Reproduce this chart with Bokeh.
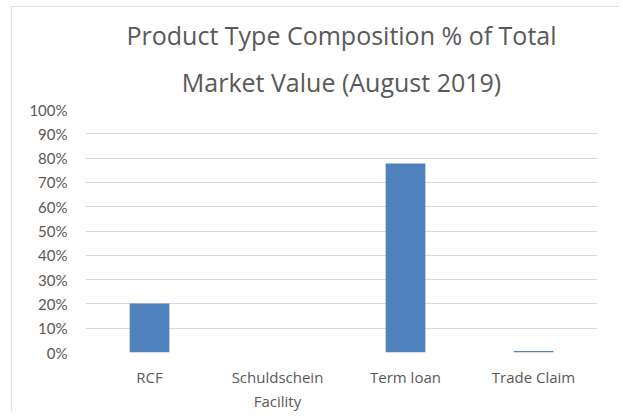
from bokeh.plotting import figure
from bokeh.models import ColumnDataSource, Range1d, FactorRange, FixedTicker, Title
from bokeh.embed import file_html
from bokeh.resources import INLINE

# Data
categories = ["RCF", "Schuldschein\nFacility", "Term loan", "Trade Claim"]
shares = [0.202, 0.0, 0.778, 0.006]
y_ticks = [0.0, 0.1, 0.2, 0.3, 0.4, 0.5, 0.6, 0.7, 0.8, 0.9, 1.0]
y_tick_labels = ["0%", "10%", "20%", "30%", "40%", "50%", "60%", "70%", "80%", "90%", "100%"]
title_lines = ["Product Type Composition % of Total", "Market Value (August 2019)"]

TITLE_FONT = "Open Sans"
AXIS_FONT = "Lato"
TEXT = "#595959"
W, H = 608, 408

src = ColumnDataSource(dict(cat=categories, val=shares))

p = figure(
    x_range=FactorRange(*categories, range_padding=0),
    y_range=Range1d(0, 1),
    width=W, height=H,
    output_backend="svg", toolbar_location=None,
    min_border_left=74, min_border_right=22, min_border_top=103, min_border_bottom=62,
    background_fill_color="white", border_fill_color="white",
    styles={"outline": "1px solid #D9D9D9", "outline-offset": "-1px",
            "clip-path": "inset(0px 0px 3px 0px)"},
)
p.margin = (6, 0, 0, 11)
p.outline_line_color = None
p.title = None

# title: second line nearest the plot, first line above it
p.add_layout(Title(text=title_lines[1], align="center", text_font=TITLE_FONT,
                   text_font_size="25px", text_color=TEXT, text_font_style="normal",
                   text_line_height=0.9, standoff=22), "above")
p.add_layout(Title(text=title_lines[0], align="center", text_font=TITLE_FONT,
                   text_font_size="25px", text_color=TEXT, text_font_style="normal",
                   text_line_height=0.9, standoff=0), "above")

p.vbar(x="cat", top="val", width=0.31, source=src, fill_color="#4F81BD", line_color=None)

# grid
p.xgrid.grid_line_color = None
p.ygrid.grid_line_color = "#D9D9D9"
p.ygrid.grid_line_width = 1

# y axis
p.yaxis.ticker = FixedTicker(ticks=y_ticks)
p.yaxis.major_label_overrides = {t: l for t, l in zip(y_ticks, y_tick_labels)}
p.yaxis.axis_line_color = None
p.yaxis.major_tick_line_color = None
p.yaxis.minor_tick_line_color = None
p.yaxis.major_tick_out = 0
p.yaxis.major_tick_in = 0
p.yaxis.major_label_standoff = 18
p.yaxis.major_label_text_font = AXIS_FONT
p.yaxis.major_label_text_font_size = "15px"
p.yaxis.major_label_text_color = TEXT

# x axis
p.xaxis.axis_line_color = None
p.xaxis.major_tick_line_color = None
p.xaxis.major_tick_out = 0
p.xaxis.major_tick_in = 0
p.xaxis.major_label_standoff = 14
p.xaxis.major_label_text_font = TITLE_FONT
p.xaxis.major_label_text_font_size = "15px"
p.xaxis.major_label_text_color = TEXT

open("out.html", "w").write(file_html(p, INLINE))
